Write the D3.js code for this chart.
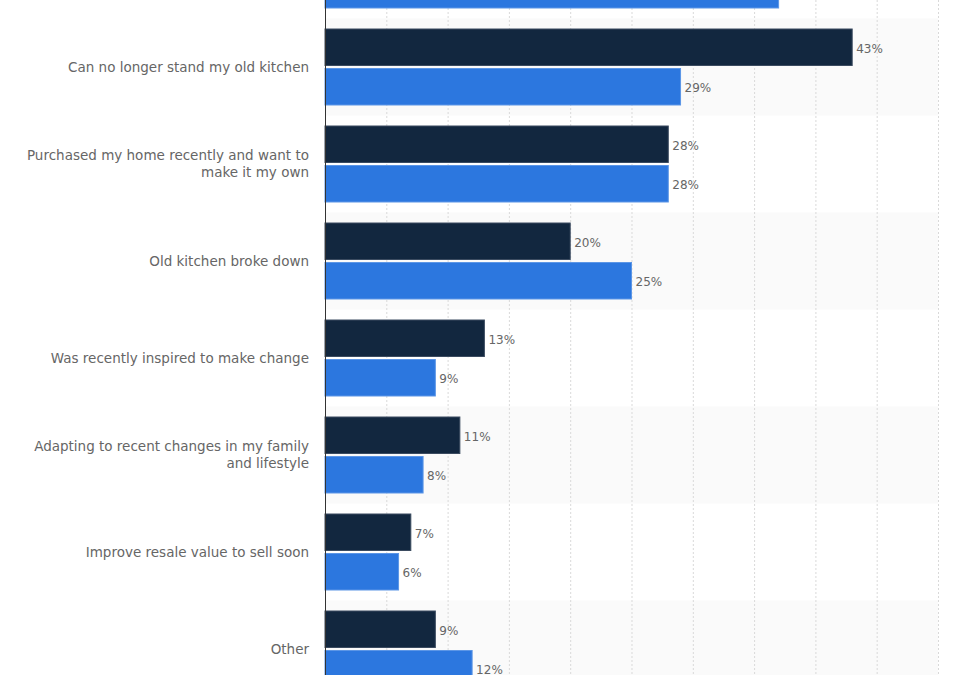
<!DOCTYPE html>
<html>
<head>
<meta charset="utf-8">
<script src="https://cdn.jsdelivr.net/npm/d3@7"></script>
<style>
  body { margin: 0; background: #fff; }
  text { font-family: "DejaVu Sans", sans-serif; }
</style>
</head>
<body>
<div id="chart"></div>
<script>
// categories, top one is cut off by the frame
var categories = [
  ["Wanted to do it all along and finally", "have the means"],
  ["Can no longer stand my old kitchen"],
  ["Purchased my home recently and want to", "make it my own"],
  ["Old kitchen broke down"],
  ["Was recently inspired to make change"],
  ["Adapting to recent changes in my family", "and lifestyle"],
  ["Improve resale value to sell soon"],
  ["Other"]
];
var seriesA = [40, 43, 28, 20, 13, 11, 7, 9];   // dark bars
var seriesB = [37, 29, 28, 25, 9, 8, 6, 12];    // blue bars
var xTicks = [0, 5, 10, 15, 20, 25, 30, 35, 40, 45, 50];

var width = 975, height = 675;

var svg = d3.select("#chart").append("svg")
  .attr("width", width)
  .attr("height", height);

var x = d3.scaleLinear().domain([0, 50]).range([325, 938]);
var y = d3.scaleBand().domain(d3.range(categories.length)).range([-78.5, 697.5]);
var mid = i => y(i) + y.bandwidth() / 2;

// alternating row shading
svg.selectAll("rect.band")
  .data(d3.range(categories.length).filter(i => i % 2 == 1))
  .enter().append("rect")
  .attr("class", "band")
  .attr("x", x(0))
  .attr("y", i => y(i))
  .attr("width", x(50) - x(0))
  .attr("height", y.bandwidth())
  .style("fill", "#fafafa");

// dotted grid
svg.selectAll("line.grid")
  .data(xTicks.slice(1))
  .enter().append("line")
  .attr("class", "grid")
  .attr("x1", d => x(d) + 0.5)
  .attr("x2", d => x(d) + 0.5)
  .attr("y1", 0)
  .attr("y2", height)
  .style("stroke", "#d9d9d9")
  .style("stroke-width", 1)
  .style("stroke-dasharray", "2,2");

var barH = 36.5;

svg.selectAll("rect.barA")
  .data(seriesA)
  .enter().append("rect")
  .attr("class", "barA")
  .attr("x", x(0))
  .attr("y", (d, i) => mid(i) - 1.5 - barH)
  .attr("width", d => x(d) - x(0))
  .attr("height", barH)
  .style("fill", "#12273f")
  .style("stroke", "#3b4b60")
  .style("stroke-width", 1);

svg.selectAll("rect.barB")
  .data(seriesB)
  .enter().append("rect")
  .attr("class", "barB")
  .attr("x", x(0))
  .attr("y", (d, i) => mid(i) + 1.5)
  .attr("width", d => x(d) - x(0))
  .attr("height", barH)
  .style("fill", "#2c77df")
  .style("stroke", "#5c96e6")
  .style("stroke-width", 1);

// labels only for rows whose text falls inside the frame
var shown = d3.range(categories.length).filter(i => mid(i) > 0);

svg.selectAll("text.valA")
  .data(shown)
  .enter().append("text")
  .attr("class", "valA")
  .attr("x", i => x(seriesA[i]) + 4)
  .attr("y", i => mid(i) - 1.5 - barH / 2)
  .attr("dy", "0.45em")
  .style("font-size", "12px")
  .style("fill", "#666")
  .text(i => seriesA[i] + "%");

svg.selectAll("text.valB")
  .data(shown)
  .enter().append("text")
  .attr("class", "valB")
  .attr("x", i => x(seriesB[i]) + 4)
  .attr("y", i => mid(i) + 1.5 + barH / 2)
  .attr("dy", "0.45em")
  .style("font-size", "12px")
  .style("fill", "#666")
  .text(i => seriesB[i] + "%");

// category labels
var cat = svg.selectAll("text.cat")
  .data(shown)
  .enter().append("text")
  .attr("class", "cat")
  .attr("text-anchor", "end")
  .attr("x", 309)
  .attr("y", i => mid(i) - (categories[i].length - 1) * 8.5)
  .style("font-size", "13.5px")
  .style("fill", "#666");

cat.selectAll("tspan")
  .data(i => categories[i])
  .enter().append("tspan")
  .attr("x", 309)
  .attr("dy", (d, j) => j == 0 ? "0.35em" : "17px")
  .text(d => d);

// y axis line
svg.append("line")
  .attr("x1", x(0) + 0.5)
  .attr("x2", x(0) + 0.5)
  .attr("y1", 0)
  .attr("y2", height)
  .style("stroke", "#333")
  .style("stroke-width", 1);
</script>
</body>
</html>
